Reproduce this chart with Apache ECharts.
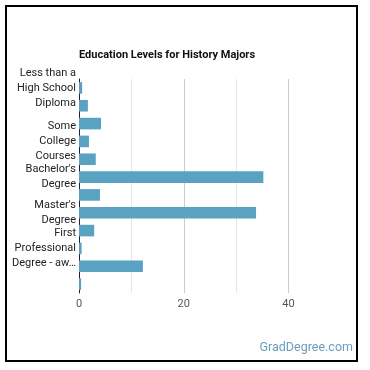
<!DOCTYPE html>
<html><head><meta charset="utf-8">
<script src="https://cdn.jsdelivr.net/npm/echarts@6/dist/echarts.min.js"></script>
<style>html,body{margin:0;padding:0;background:#fff}#c{width:370px;height:370px}</style>
</head><body><div id="c"></div>
<script>
var categories = ["Less than a High School Diploma","High School Diploma","Post-Secondary Certificate","Some College Courses","Associate's Degree","Bachelor's Degree","Post-Baccalaureate Certificate","Master's Degree","Post-Master's Certificate","First Professional Degree - awarded for completion of a program","Doctoral Degree","Post-Doctoral Training"];
var values = [0.6, 1.7, 4.2, 1.9, 3.2, 35.2, 4.0, 33.8, 2.9, 0.5, 12.2, 0.4];
var tickLabels = {
  "Less than a High School Diploma":"Less than a\nHigh School\nDiploma",
  "Some College Courses":"Some\nCollege\nCourses",
  "Bachelor's Degree":"Bachelor's\nDegree",
  "Master's Degree":"Master's\nDegree",
  "First Professional Degree - awarded for completion of a program":"First\nProfessional\nDegree - aw\u2026"
};
var xTickLabels = {0:"0",20:"20",40:"40"};
var chart = echarts.init(document.getElementById('c'));
chart.setOption({
  animation:false,
  textStyle:{fontFamily:'Roboto'},
  title:{text:'Education Levels for History Majors',left:74,top:45,textStyle:{fontFamily:'Roboto',fontSize:11,fontWeight:'bold',color:'#111'}},
  grid:{left:79,right:81.5,top:79,bottom:77,containLabel:false},
  xAxis:{type:'value',min:0,max:40,interval:10,
    axisLine:{show:false},axisTick:{show:false},
    axisLabel:{color:'#555',fontSize:11,margin:6,formatter:function(v){return xTickLabels[v]||'';}},
    splitLine:{show:true,lineStyle:{color:['#cccccc','#e6e6e6'],width:1}}},
  yAxis:{type:'category',inverse:true,data:categories,
    axisLine:{show:true,lineStyle:{color:'#222',width:1}},axisTick:{show:false},
    axisLabel:{color:'#222',fontSize:11,lineHeight:15,margin:3,interval:0,hideOverlap:false,
      formatter:function(v){return tickLabels[v]||'';}}},
  series:[{type:'bar',data:values,barWidth:'65%',itemStyle:{color:'#5aa2c1'},silent:true}],
  graphic:[
    {type:'rect',shape:{x:6,y:6,width:351,height:355},style:{fill:'none',stroke:'#000',lineWidth:2}},
    {type:'text',right:17,top:341,style:{text:'GradDegree.com',fill:'#6b9dbd',font:'12.5px Roboto'}}
  ]
});
</script></body></html>
